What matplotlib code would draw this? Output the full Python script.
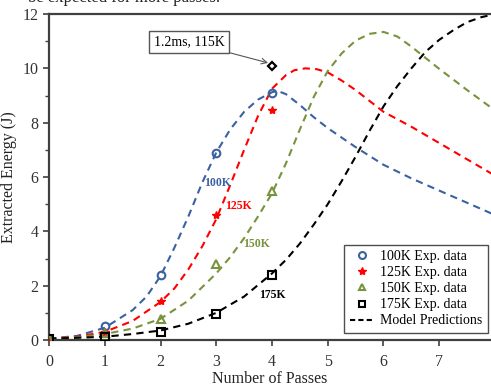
import matplotlib
matplotlib.use("Agg")
import matplotlib.pyplot as plt
from matplotlib.lines import Line2D

plt.rcParams['font.family'] = ['Liberation Serif', 'DejaVu Serif']

# experimental data (passes vs extracted energy)
passes = [0, 1, 2, 3, 4]
exp_100k = [0.05, 0.5, 2.4, 6.9, 9.1]
exp_125k = [0.05, 0.3, 1.45, 4.6, 8.45]
exp_150k = [0.05, 0.25, 0.78, 2.8, 5.5]
exp_175k = [0.05, 0.1, 0.3, 0.95, 2.4]

# single point: 1.2ms, 115K
extra_x = [4]
extra_y = [10.1]

# model predictions
mx_100k = [0, 0.5, 1, 1.5, 1.75, 2, 2.25, 2.5, 2.75, 3, 3.25, 3.5, 3.75, 4, 4.1,
           4.25, 4.5, 4.75, 5, 5.25, 5.5, 6, 6.5, 7, 7.5, 8]
my_100k = [0.05, 0.15, 0.45, 1.1, 1.6, 2.35, 3.4, 4.55, 5.8, 6.9, 7.75, 8.4, 8.85, 9.12, 9.17,
           9.05, 8.65, 8.2, 7.8, 7.45, 7.1, 6.45, 5.95, 5.5, 5.05, 4.6]

mx_125k = [0, 0.5, 1, 1.5, 2, 2.25, 2.5, 2.75, 3, 3.25, 3.5, 3.75, 4, 4.25, 4.4, 4.6, 4.8,
           5, 5.25, 5.5, 5.75, 6, 6.5, 7, 7.5, 8]
my_125k = [0.05, 0.12, 0.3, 0.7, 1.4, 1.9, 2.6, 3.45, 4.45, 5.7, 7.0, 8.25, 9.25, 9.75, 9.93, 10.0, 9.97,
           9.85, 9.55, 9.2, 8.8, 8.4, 7.85, 7.25, 6.65, 6.05]

mx_150k = [0, 0.5, 1, 1.5, 2, 2.5, 3, 3.25, 3.5, 3.75, 4, 4.25, 4.5, 4.75, 5, 5.25, 5.5,
           5.75, 6, 6.25, 6.5, 7, 7.5, 8]
my_150k = [0.05, 0.1, 0.22, 0.42, 0.78, 1.45, 2.45, 3.05, 3.75, 4.55, 5.4, 6.5, 7.75, 8.95, 9.9, 10.55, 11.02,
           11.27, 11.34, 11.17, 10.8, 9.98, 9.2, 8.45]

mx_175k = [0, 0.5, 1, 1.5, 2, 2.5, 3, 3.5, 4, 4.25, 4.5, 4.75, 5, 5.25, 5.5, 5.75, 6,
           6.25, 6.5, 6.75, 7, 7.25, 7.5, 7.75, 8]
my_175k = [0.05, 0.08, 0.12, 0.22, 0.35, 0.6, 1.0, 1.6, 2.45, 2.95, 3.55, 4.25, 5.0, 5.85, 6.75, 7.7, 8.6,
           9.35, 10.0, 10.6, 11.05, 11.4, 11.7, 11.88, 12.0]

BLUE = '#3a62a0'
RED = '#ff0000'
GREEN = '#77933c'
BLACK = '#000000'

fig = plt.figure(figsize=(4.91, 3.87), dpi=100)
ax = fig.add_axes([49 / 491, 1 - 340 / 387, (495 - 49) / 491, (340 - 14) / 387])

dash = (0, (3.5, 2.5))
for mx, my, c in [(mx_100k, my_100k, BLUE), (mx_125k, my_125k, RED),
                  (mx_150k, my_150k, GREEN), (mx_175k, my_175k, BLACK)]:
    ax.plot(mx, my, color=c, lw=1.5, linestyle=dash, zorder=2, solid_joinstyle='round')

ax.plot(passes, exp_100k, 'o', ms=5.5, mfc='none', mec=BLUE, mew=1.5, zorder=4)
ax.plot(passes, exp_125k, '*', ms=6, color=RED, zorder=4)
ax.plot(passes, exp_150k, '^', ms=5.5, mfc='none', mec=GREEN, mew=1.5, zorder=4)
ax.plot(passes, exp_175k, 's', ms=5.5, mfc='none', mec=BLACK, mew=1.5, zorder=4)
ax.plot(extra_x, extra_y, 'D', ms=4.5, mfc='none', mec=BLACK, mew=1.6, zorder=4)

ax.annotate('1.2ms, 115K', xy=(extra_x[0] - 0.07, extra_y[0] + 0.1),
            xytext=(189 / 491, 1 - 42 / 387), textcoords='figure fraction',
            ha='center', va='center', fontsize=10,
            bbox=dict(boxstyle='square,pad=0.35', fc='white', ec='#555555', lw=1),
            arrowprops=dict(arrowstyle='->', color='#555555', lw=0.8,
                            shrinkA=0, shrinkB=0))

ax.text(3.02, 5.78, '100K', color=BLUE, fontsize=8.5, fontweight='bold', ha='center', va='center')
ax.text(3.39, 4.93, '125K', color=RED, fontsize=8.5, fontweight='bold', ha='center', va='center')
ax.text(3.72, 3.53, '150K', color=GREEN, fontsize=8.5, fontweight='bold', ha='center', va='center')
ax.text(4.0, 1.66, '175K', color=BLACK, fontsize=8.5, fontweight='bold', ha='center', va='center')

ax.set_xlim(0, 8)
ax.set_ylim(0, 12)
ax.set_xticks(range(0, 9))
ax.set_yticks(range(0, 13, 2))
ax.set_yticks(range(1, 12, 2), minor=True)
for s in ax.spines.values():
    s.set_color('#404040')
    s.set_linewidth(1.6)
ax.tick_params(axis='both', which='major', direction='out', length=4, width=1.2,
               color='#404040', labelsize=11.5, labelcolor='#333333')
ax.tick_params(axis='y', which='minor', direction='out', length=3, width=1.0, color='#404040')
ax.tick_params(axis='x', pad=6)
ax.set_xlabel('Number of Passes', fontsize=11.5, labelpad=1, color='#222222')
ax.set_ylabel('Extracted Energy (J)', fontsize=11.5, labelpad=4, color='#222222')
ax.xaxis.set_label_coords((270 - 49) / 446, -0.094)

handles = [
    Line2D([], [], marker='o', ls='none', ms=5, mfc='none', mec=BLUE, mew=1.5),
    Line2D([], [], marker='*', ls='none', ms=6, color=RED),
    Line2D([], [], marker='^', ls='none', ms=5, mfc='none', mec=GREEN, mew=1.5),
    Line2D([], [], marker='s', ls='none', ms=5, mfc='none', mec=BLACK, mew=1.5),
    Line2D([], [], color=BLACK, lw=1.5, linestyle=(0, (2.5, 1.5))),
]
labels = ['100K Exp. data', '125K Exp. data', '150K Exp. data', '175K Exp. data',
          'Model Predictions']
leg = ax.legend(handles, labels, loc='lower right', bbox_to_anchor=(488 / 491, 1 - 333 / 387),
                bbox_transform=fig.transFigure, borderaxespad=0, fontsize=10,
                frameon=True, fancybox=False, handlelength=1.8, handletextpad=0.4,
                labelspacing=0.22, borderpad=0.4)
leg.get_frame().set_edgecolor('#222222')
leg.get_frame().set_linewidth(1.0)

# tail of the surrounding caption text, cut off at the top of the crop
fig.text(220 / 491, 1 - 1.5 / 387, 'be expected for more passes.', ha='right', va='baseline',
         fontsize=12, color='#222222')

fig.savefig('out.png', dpi=100)
